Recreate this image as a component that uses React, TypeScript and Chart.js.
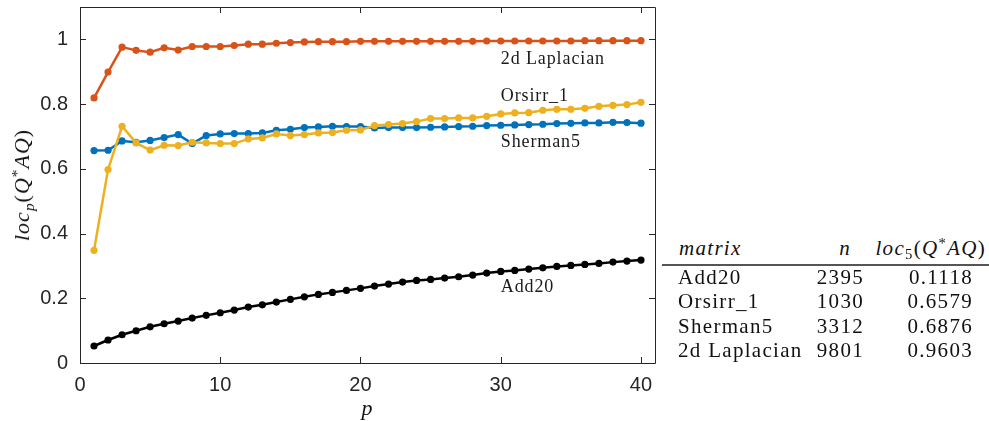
import React, { useEffect, useRef } from "react";
import { Chart, registerables } from "chart.js";

Chart.register(...registerables);

// ---------- data ----------
const pValues = [
  1, 2, 3, 4, 5, 6, 7, 8, 9, 10, 11, 12, 13, 14, 15, 16, 17, 18, 19, 20,
  21, 22, 23, 24, 25, 26, 27, 28, 29, 30, 31, 32, 33, 34, 35, 36, 37, 38, 39, 40,
];

const add20 = [
  0.0525, 0.071, 0.0873, 0.0997, 0.1118, 0.1213, 0.1296, 0.1389, 0.1472, 0.1552,
  0.1636, 0.1728, 0.1799, 0.1883, 0.1966, 0.2046, 0.212, 0.2182, 0.2244, 0.2306,
  0.2377, 0.2438, 0.25, 0.2552, 0.2582, 0.2623, 0.2665, 0.2716, 0.2778, 0.2829,
  0.286, 0.2901, 0.2942, 0.2984, 0.3015, 0.3045, 0.3076, 0.3117, 0.3148, 0.3179,
];

const orsirr1 = [
  0.348, 0.5977, 0.7315, 0.68, 0.6579, 0.6728, 0.6718, 0.6821, 0.68, 0.678,
  0.678, 0.6924, 0.6955, 0.7078, 0.7027, 0.7058, 0.711, 0.712, 0.7191, 0.7202,
  0.7335, 0.7366, 0.7397, 0.7459, 0.7551, 0.7551, 0.7572, 0.7572, 0.7623, 0.7695,
  0.7726, 0.7736, 0.7809, 0.784, 0.784, 0.787, 0.7932, 0.7963, 0.7984, 0.8056,
];

const sherman5 = [
  0.6564, 0.6574, 0.6862, 0.6821, 0.6876, 0.6965, 0.7058, 0.678, 0.7027, 0.7078,
  0.7088, 0.7088, 0.711, 0.7191, 0.7222, 0.7274, 0.7294, 0.7315, 0.7305, 0.7305,
  0.7263, 0.7274, 0.7274, 0.7274, 0.7284, 0.7294, 0.7305, 0.7315, 0.7336, 0.7346,
  0.7356, 0.7367, 0.7377, 0.7397, 0.7407, 0.7418, 0.7418, 0.7438, 0.7428, 0.741,
];

const laplacian2d = [
  0.819, 0.899, 0.976, 0.966, 0.9603, 0.974, 0.967, 0.978, 0.978, 0.978,
  0.981, 0.985, 0.985, 0.988, 0.99, 0.992, 0.993, 0.993, 0.993, 0.994,
  0.994, 0.994, 0.994, 0.994, 0.994, 0.994, 0.994, 0.994, 0.995, 0.995,
  0.995, 0.995, 0.995, 0.995, 0.995, 0.996, 0.996, 0.996, 0.996, 0.996,
];

const seriesNames = ["Add20", "Orsirr_1", "Sherman5", "2d Laplacian"];

const xTicks = [0, 10, 20, 30, 40];
const yTicks = [0, 0.2, 0.4, 0.6, 0.8, 1];

const tableMatrices = ["Add20", "Orsirr_1", "Sherman5", "2d Laplacian"];
const tableN = ["2395", "1030", "3312", "9801"];
const tableLoc5 = ["0.1118", "0.6579", "0.6876", "0.9603"];

// ---------- styling ----------
const COLORS = ["#000000", "#EDB120", "#0072BD", "#D95319"];
const AXIS = "#262626";
const SERIF = '"Liberation Serif", "Times New Roman", serif';
const SANS = '"Liberation Sans", Arial, sans-serif';

const X_MIN = 0;
const X_MAX = 41;
const Y_MIN = 0;
const Y_MAX = 1.1;

// annotation anchors (data coords: x, baseline y) for series labels
const labelAnchorX = 30;
const labelAnchorY = [0.22, 0.809, 0.668, 0.923];

const boxPlugin = {
  id: "boxAndLabels",
  beforeDatasetsDraw(chart: any) {
    const { ctx, chartArea } = chart;
    const { left, right, top, bottom } = chartArea;
    const xs = chart.scales.x;
    const ys = chart.scales.y;
    ctx.save();
    ctx.strokeStyle = AXIS;
    ctx.lineWidth = 1;
    ctx.beginPath();
    ctx.rect(Math.round(left) + 0.5, Math.round(top) + 0.5, Math.round(right - left), Math.round(bottom - top));
    ctx.stroke();
    const tl = 6;
    ctx.beginPath();
    xTicks.forEach((v) => {
      const px = Math.round(xs.getPixelForValue(v)) + 0.5;
      ctx.moveTo(px, bottom);
      ctx.lineTo(px, bottom - tl);
      ctx.moveTo(px, top);
      ctx.lineTo(px, top + tl);
    });
    yTicks.forEach((v) => {
      const py = Math.round(ys.getPixelForValue(v)) + 0.5;
      ctx.moveTo(left, py);
      ctx.lineTo(left + tl, py);
      ctx.moveTo(right, py);
      ctx.lineTo(right - tl, py);
    });
    ctx.stroke();
    ctx.restore();
  },
  afterDraw(chart: any) {
    const { ctx } = chart;
    const xs = chart.scales.x;
    const ys = chart.scales.y;
    ctx.save();
    ctx.font = `18px ${SERIF}`;
    try {
      (ctx as any).letterSpacing = "0.9px";
    } catch (e) {}
    ctx.fillStyle = "#1a1a1a";
    ctx.textAlign = "left";
    ctx.textBaseline = "alphabetic";
    seriesNames.forEach((name, i) => {
      ctx.fillText(name, xs.getPixelForValue(labelAnchorX), ys.getPixelForValue(labelAnchorY[i]));
    });
    ctx.restore();
  },
};

function Sub({ children, up }: { children: any; up?: boolean }) {
  return (
    <span
      style={{
        position: "relative",
        top: up ? "-0.45em" : "0.3em",
        fontSize: "0.7em",
      }}
    >
      {children}
    </span>
  );
}

function LocLabel({ sub }: { sub: string }) {
  return (
    <>
      <i>loc</i>
      <Sub>{sub === "p" ? <i>p</i> : sub}</Sub>
      (<i>Q</i>
      <Sub up>*</Sub>
      <i>AQ</i>)
    </>
  );
}

function TextAt({
  left,
  right,
  baseline,
  size,
  italic,
  children,
}: {
  left?: number;
  right?: number;
  baseline: number;
  size: number;
  italic?: boolean;
  children: any;
}) {
  const style: any = {
    position: "absolute",
    top: baseline - 0.3375 * size,
    fontFamily: SERIF,
    fontSize: size,
    lineHeight: 0,
    whiteSpace: "nowrap",
    color: "#111",
    letterSpacing: "1.3px",
    fontStyle: italic ? "italic" : "normal",
  };
  if (left !== undefined) style.left = left;
  if (right !== undefined) {
    style.right = right;
    style.textAlign = "right";
  }
  return <div style={style}>{children}</div>;
}

export default function App() {
  const canvasRef = useRef<HTMLCanvasElement | null>(null);

  useEffect(() => {
    const canvas = canvasRef.current;
    if (!canvas) return;
    const series = [add20, orsirr1, sherman5, laplacian2d];
    const chart = new Chart(canvas, {
      type: "line",
      data: {
        datasets: series.map((vals, i) => ({
          label: seriesNames[i],
          data: vals.map((v, k) => ({ x: pValues[k], y: v })),
          borderColor: COLORS[i],
          backgroundColor: COLORS[i],
          borderWidth: 2.5,
          pointRadius: 3.6,
          pointBorderWidth: 0,
          pointBackgroundColor: COLORS[i],
          tension: 0,
          fill: false,
        })),
      },
      options: {
        responsive: false,
        animation: false,
        devicePixelRatio: 1,
        layout: { padding: { left: 0, right: 10, top: 7, bottom: 0 } },
        plugins: {
          legend: { display: false },
          tooltip: { enabled: false },
        },
        scales: {
          x: {
            type: "linear",
            min: X_MIN,
            max: X_MAX,
            bounds: "data",
            grid: { display: false, drawTicks: false },
            border: { display: false },
            afterBuildTicks: (scale: any) => {
              scale.ticks = xTicks.map((v) => ({ value: v }));
              scale.min = X_MIN;
              scale.max = X_MAX;
            },
            afterFit: (scale: any) => {
              scale.height = 58;
              scale.paddingLeft = 0;
              scale.paddingRight = 0;
              scale.paddingTop = 0;
              scale.paddingBottom = 0;
            },
            ticks: {
              padding: 10,
              color: AXIS,
              font: { family: SANS, size: 20 },
              maxRotation: 0,
              callback: (v: any) => String(v),
            },
          },
          y: {
            type: "linear",
            min: Y_MIN,
            max: Y_MAX,
            bounds: "data",
            grid: { display: false, drawTicks: false },
            border: { display: false },
            afterBuildTicks: (scale: any) => {
              scale.ticks = yTicks.map((v) => ({ value: v }));
              scale.min = Y_MIN;
              scale.max = Y_MAX;
            },
            afterFit: (scale: any) => {
              scale.width = 80;
              scale.paddingTop = 0;
              scale.paddingBottom = 0;
              scale.paddingLeft = 0;
              scale.paddingRight = 0;
            },
            ticks: {
              padding: 12,
              color: AXIS,
              font: { family: SANS, size: 20 },
              callback: (v: any) => String(Math.round(Number(v) * 10) / 10),
            },
          },
        },
      },
      plugins: [boxPlugin],
    } as any);
    return () => chart.destroy();
  }, []);

  const rowBaselines = [284, 308.5, 333, 357];

  return (
    <div
      style={{
        position: "fixed",
        left: 0,
        top: 0,
        width: 989,
        height: 421,
        background: "#fff",
        overflow: "hidden",
      }}
    >
      <canvas
        ref={canvasRef}
        width={665}
        height={421}
        style={{ position: "absolute", left: 0, top: 0, width: 665, height: 421 }}
      />
      {/* y axis title */}
      <div
        style={{
          position: "absolute",
          left: 22,
          top: 185,
          transform: "translate(-50%, -50%) rotate(-90deg)",
          fontFamily: SERIF,
          fontSize: 22,
          letterSpacing: "1px",
          whiteSpace: "nowrap",
          color: "#111",
          lineHeight: 1,
        }}
      >
        <LocLabel sub="p" />
      </div>
      {/* x axis title */}
      <div
        style={{
          position: "absolute",
          left: 367,
          top: 408,
          transform: "translate(-50%, -50%)",
          fontFamily: SERIF,
          fontStyle: "italic",
          fontSize: 22,
          color: "#111",
          lineHeight: 1,
        }}
      >
        p
      </div>
      {/* table */}
      <TextAt left={679} baseline={255} size={21} italic>
        matrix
      </TextAt>
      <TextAt right={989 - 851} baseline={255} size={21} italic>
        n
      </TextAt>
      <TextAt right={989 - 986} baseline={255} size={21}>
        <LocLabel sub="5" />
      </TextAt>
      <div
        style={{
          position: "absolute",
          left: 662,
          top: 264,
          width: 327,
          height: 2,
          background: "#555",
        }}
      />
      {tableMatrices.map((m, i) => (
        <React.Fragment key={m}>
          <TextAt left={678} baseline={rowBaselines[i]} size={21}>
            {m}
          </TextAt>
          <TextAt right={989 - 864} baseline={rowBaselines[i]} size={21}>
            {tableN[i]}
          </TextAt>
          <TextAt right={989 - 973} baseline={rowBaselines[i]} size={21}>
            {tableLoc5[i]}
          </TextAt>
        </React.Fragment>
      ))}
    </div>
  );
}
